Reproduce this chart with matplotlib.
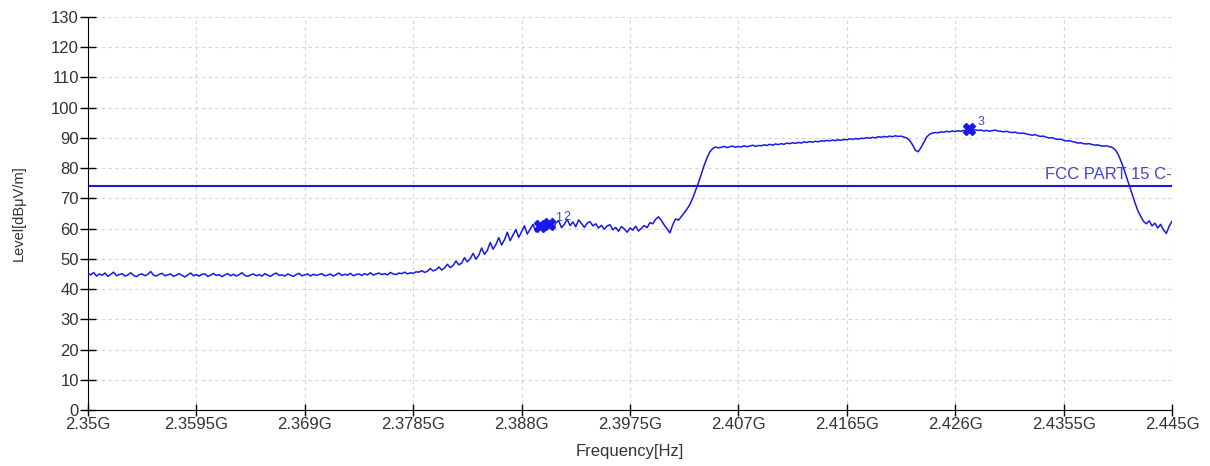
import numpy as np
import matplotlib.pyplot as plt

plt.rcParams['font.family'] = ['Liberation Sans', 'DejaVu Sans']

# sweep: 2.35 GHz .. 2.445 GHz, 0.25 MHz steps
f_start = 2.35
f_step = 0.00025

# measured level [dBuV/m] by sweep segment
noise_floor = [45.2, 44.7, 45.5, 44.3, 45.0, 44.6, 45.3, 44.2, 44.9, 45.6,
               44.4, 44.8, 45.1, 44.3, 44.7, 45.4, 44.5, 44.1, 44.8, 45.0,
               44.4, 44.9, 45.8, 44.6, 44.3, 44.9, 45.2, 44.4, 44.7, 45.0,
               44.2, 44.6, 45.1, 44.5, 44.0, 44.7, 45.3, 44.4, 44.8, 44.3,
               44.9, 45.0, 44.2, 44.6, 45.2, 44.5, 44.8, 44.1, 44.7, 45.1,
               44.4, 44.9, 44.3, 44.8, 45.4, 44.5, 44.2, 44.7, 45.0, 44.4,
               44.8, 44.3, 45.1, 44.6, 44.2, 44.9, 45.3, 44.5, 44.7, 44.3,
               45.0, 44.6, 44.2, 44.8, 45.2, 44.4, 44.7, 45.0, 44.3, 44.9,
               44.5, 44.8, 45.1, 44.4, 44.6, 45.0, 44.3, 44.8, 45.3, 44.5,
               44.9, 44.6, 45.2, 44.4, 44.8, 45.0, 44.5, 45.1, 44.7, 45.4,
               44.6, 45.0, 45.3, 44.8, 45.1, 44.7, 45.5, 45.0, 44.8, 45.3,
               45.1, 45.6, 45.0, 45.4, 45.2, 45.7]
lower_edge = [45.6, 46.1, 45.5, 45.9, 46.8, 46.0, 46.4, 47.3, 46.3, 47.0,
              48.2, 47.1, 47.8, 49.3, 48.0, 48.6, 50.4, 49.0, 50.1, 51.8,
              49.9, 51.2, 53.6, 51.5, 52.8, 55.4, 53.2, 54.7, 57.0, 54.6,
              56.3, 58.8, 56.0, 57.9, 59.7, 57.1, 59.0, 60.9, 58.2, 59.8,
              61.4, 59.0, 60.6, 62.1]
shoulder = [60.4, 62.8, 61.5, 59.7, 61.9, 62.6, 60.3, 61.4, 63.1, 61.0,
            62.2, 60.6, 62.9, 61.7, 60.4, 61.8, 62.3, 60.9, 61.6, 60.2,
            61.1, 59.8, 60.9, 61.3, 59.6, 60.4, 59.1, 60.7, 59.9, 58.8,
            60.2, 59.5, 60.8, 59.2, 60.1, 61.0, 60.3, 62.0, 61.6, 63.1,
            63.9, 62.7, 61.2, 59.9, 58.6, 61.3, 63.2, 62.8]
band_rise = [64.0, 65.2, 66.5, 68.0, 70.1, 72.6, 75.2, 78.0, 80.9, 83.4,
             85.4, 86.5, 87.0, 86.7]
in_band = [86.9, 87.2, 86.8, 87.1, 87.3, 86.9, 87.2, 87.0, 87.4, 87.1,
           87.3, 87.6, 87.2, 87.5, 87.4, 87.7, 87.5, 87.9, 87.6, 88.0,
           87.8, 88.1, 87.9, 88.3, 88.1, 88.4, 88.2, 88.5, 88.3, 88.7,
           88.5, 88.8, 88.6, 88.9, 88.7, 89.1, 88.9, 89.2, 89.0, 89.3,
           89.1, 89.4, 89.2, 89.5, 89.4, 89.7, 89.5, 89.8, 89.6, 89.9,
           89.8, 90.1, 89.9, 90.2, 90.0, 90.4, 90.2, 90.5, 90.3, 90.6,
           90.4, 90.7, 90.5, 90.6]
notch = [90.3, 90.0, 89.2, 87.8, 86.0, 85.4, 86.8, 88.5, 90.3, 91.2, 91.6]
band_top = [91.8, 91.7, 92.0, 91.9, 92.2, 92.0, 92.3, 92.1, 92.4, 92.2,
            92.5, 92.3, 92.6, 92.4, 92.7, 92.5, 92.6, 92.3, 92.5, 92.2,
            92.4, 92.6, 92.3, 92.2]
band_roll = [92.0, 92.2, 91.9, 91.8, 91.9, 91.6, 91.5, 91.6, 91.3, 91.1,
             90.9, 91.1, 90.7, 90.5, 90.6, 90.2, 90.0, 90.1, 89.7, 89.5,
             89.6, 89.2, 89.0, 89.1, 88.8, 88.6, 88.3, 88.4, 88.1, 88.0,
             88.1, 87.8, 87.6, 87.7, 87.4, 87.3, 87.4, 87.1, 86.9]
upper_edge = [86.2, 84.8, 82.6, 80.1, 77.2, 74.4, 71.4, 68.6, 66.0, 64.1,
              62.4, 61.6, 62.6, 60.9, 61.8, 60.2, 61.4, 59.6, 58.4, 60.8,
              62.4]

level = np.array(noise_floor + lower_edge + shoulder + band_rise + in_band
                 + notch + band_top + band_roll + upper_edge)
freq = f_start + f_step * np.arange(len(level))

limit = 74.0
limit_name = 'FCC PART 15 C-'

marker_ids = ['1', '2', '3']
marker_freq = [2.3896, 2.3904, 2.4272]
marker_level = [61.0, 61.4, 92.8]
label_dx = [10.8, 10.0, 6.5]

ticks = [2.35, 2.3595, 2.369, 2.3785, 2.388, 2.3975, 2.407, 2.4165, 2.426, 2.4355, 2.445]
tick_labels = ['2.35G', '2.3595G', '2.369G', '2.3785G', '2.388G', '2.3975G',
               '2.407G', '2.4165G', '2.426G', '2.4355G', '2.445G']

trace_col = '#1818e8'
text_col = '#333333'
fig = plt.figure(figsize=(12.1, 4.66), dpi=100)
ax = fig.add_axes([0.0727, 0.1202, 0.8959, 0.8433])

ax.plot(freq, level, color=trace_col, lw=1.1, zorder=3)
ax.axhline(limit, color='#1c1cd8', lw=1.5, zorder=2)
ax.text(2.445, limit + 1.5, limit_name, ha='right', va='bottom',
        color='#4646c8', fontsize=12, zorder=4)

ax.plot(marker_freq, marker_level, ls='none', marker='X', ms=8,
        color=trace_col, mec=trace_col, zorder=5)
for mid, mf, ml, dx in zip(marker_ids, marker_freq, marker_level, label_dx):
    ax.annotate(mid, (mf, ml), xytext=(dx, 1), textcoords='offset points',
                color='#4646c8', fontsize=9, va='bottom', ha='left')

ax.set_xlim(2.35, 2.445)
ax.set_ylim(0, 130)
ax.set_xticks(ticks)
ax.set_xticklabels(tick_labels)
ax.set_yticks(np.arange(0, 131, 10))

ax.grid(True, color='#d4d4d4', ls=(0, (3, 3)), lw=0.8)
ax.set_axisbelow(True)
for s in ['top', 'right']:
    ax.spines[s].set_visible(False)
ax.tick_params(axis='y', direction='inout', length=11, width=1, labelsize=12,
               pad=1, labelcolor=text_col)
ax.tick_params(axis='x', direction='inout', length=8, width=1, labelsize=12,
               pad=1, labelcolor=text_col)

ax.set_xlabel('Frequency[Hz]', fontsize=12, labelpad=9, color=text_col)
ax.set_ylabel('Level[dB\u03bcV/m]', fontsize=10.5, labelpad=18, color=text_col)

fig.savefig('out.png', dpi=100)
